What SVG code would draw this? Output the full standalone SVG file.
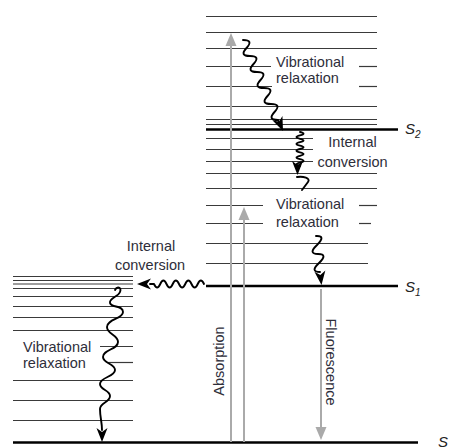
<svg xmlns="http://www.w3.org/2000/svg" xmlns:xlink="http://www.w3.org/1999/xlink" width="451" height="448" viewBox="0 0 451 448">
<style>
.lv{stroke:#3a3a3a;stroke-width:1.2;fill:none}
.th{stroke:#000;stroke-width:2.6;fill:none}
.gr{stroke:#aaa;stroke-width:2;fill:none}
.wv{stroke:#000;stroke-width:1.9;fill:none;stroke-linejoin:round;stroke-linecap:round}
.t{font-family:"Liberation Sans",Arial,sans-serif;font-size:14.5px;fill:#2e2e3a}
.s{font-family:"Liberation Sans",Arial,sans-serif;font-style:italic;font-size:15px;fill:#222}
.sub{font-size:10px}
</style>
<defs>
<path id="ah" d="M0,0 L-5.5,-14 L0,-10 L5.5,-14 Z" fill="#000"/>
<path id="ahg" d="M0,0 L-5.5,-13 L5.5,-13 Z" fill="#aaa"/>
</defs>
<rect width="451" height="448" fill="#fff"/>

<g id="S2-manifold">
<line class="lv" x1="206" y1="16.5" x2="377" y2="16.5"/>
<line class="lv" x1="206" y1="32.5" x2="377" y2="32.5"/>
<line class="lv" x1="206" y1="48.5" x2="377" y2="48.5"/>
<line class="lv" x1="206" y1="66.5" x2="271" y2="66.5"/>
<line class="lv" x1="359" y1="66.5" x2="377" y2="66.5"/>
<line class="lv" x1="206" y1="86.5" x2="272" y2="86.5"/>
<line class="lv" x1="359" y1="86.5" x2="377" y2="86.5"/>
<line class="lv" x1="206" y1="106.5" x2="377" y2="106.5"/>
<line class="lv" x1="206" y1="119.5" x2="377" y2="119.5"/>
<line class="lv" x1="206" y1="124.5" x2="377" y2="124.5"/>
<line class="th" x1="206" y1="129.5" x2="398" y2="129.5"/>
<line class="lv" x1="206" y1="138.5" x2="313" y2="138.5"/>
<line class="lv" x1="206" y1="149.5" x2="313" y2="149.5"/>
<line class="lv" x1="206" y1="161.5" x2="313" y2="161.5"/>
<line class="lv" x1="206" y1="173.5" x2="377" y2="173.5"/>
<line class="lv" x1="206" y1="188.5" x2="377" y2="188.5"/>
<line class="lv" x1="206" y1="205.5" x2="263" y2="205.5"/>
<line class="lv" x1="359" y1="205.5" x2="377" y2="205.5"/>
<line class="lv" x1="206" y1="223.5" x2="263" y2="223.5"/>
<line class="lv" x1="359" y1="223.5" x2="371" y2="223.5"/>
<line class="lv" x1="206" y1="243.5" x2="368" y2="243.5"/>
<line class="lv" x1="206" y1="263.5" x2="368" y2="263.5"/>
<text class="s" x="405" y="134">S<tspan class="sub" dy="4">2</tspan></text>
</g>

<g id="S1">
<line class="th" x1="206" y1="286" x2="398" y2="286"/>
<text class="s" x="405" y="292">S<tspan class="sub" dy="4">1</tspan></text>
</g>

<g id="S1-manifold-left">
<line class="lv" x1="13" y1="276.5" x2="133" y2="276.5"/>
<line class="lv" x1="13" y1="280.5" x2="133" y2="280.5"/>
<line class="lv" x1="13" y1="284" x2="133" y2="284"/>
<line class="lv" x1="13" y1="288.5" x2="133" y2="288.5"/>
<line class="lv" x1="13" y1="296.5" x2="133" y2="296.5"/>
<line class="lv" x1="13" y1="306.5" x2="133" y2="306.5"/>
<line class="lv" x1="13" y1="317.5" x2="133" y2="317.5"/>
<line class="lv" x1="13" y1="330.5" x2="133" y2="330.5"/>
<line class="lv" x1="100" y1="346.5" x2="133" y2="346.5"/>
<line class="lv" x1="107" y1="362.5" x2="133" y2="362.5"/>
<line class="lv" x1="13" y1="380.5" x2="133" y2="380.5"/>
<line class="lv" x1="13" y1="400.5" x2="133" y2="400.5"/>
<line class="lv" x1="13" y1="420.5" x2="133" y2="420.5"/>
</g>

<g id="S0">
<line class="th" x1="13" y1="442.5" x2="418" y2="442.5"/>
<text class="s" x="438" y="447">S</text>
</g>

<g id="labels">
<text class="t" x="276" y="67">Vibrational</text>
<text class="t" x="276" y="83">relaxation</text>
<text class="t" x="352.5" y="147" text-anchor="middle">Internal</text>
<text class="t" x="352.5" y="167" text-anchor="middle">conversion</text>
<text class="t" x="276" y="209">Vibrational</text>
<text class="t" x="276" y="227">relaxation</text>
<text class="t" x="151" y="251" text-anchor="middle">Internal</text>
<text class="t" x="150" y="270" text-anchor="middle">conversion</text>
<text class="t" x="23" y="352">Vibrational</text>
<text class="t" x="23" y="368">relaxation</text>
<text class="t" x="0" y="0" text-anchor="middle" transform="translate(224,361) rotate(-90)">Absorption</text>
<text class="t" x="0" y="0" text-anchor="middle" transform="translate(326,362) rotate(90)">Fluorescence</text>
</g>

<g id="connectors">
<line class="gr" x1="231" y1="442" x2="231" y2="44"/>
<use xlink:href="#ahg" href="#ahg" transform="translate(231,33) rotate(180)"/>
<line class="gr" x1="244" y1="442" x2="244" y2="218"/>
<use xlink:href="#ahg" href="#ahg" transform="translate(244,207) rotate(180)"/>
<line class="gr" x1="321" y1="289" x2="321" y2="429"/>
<use xlink:href="#ahg" href="#ahg" transform="translate(321,440)"/>

<path class="wv" d="M243,40 Q253.9,40 246.5,48 Q239.1,56 250,56 Q260.9,56 253.5,64 Q246.1,72 257,72 Q267.9,72 260.5,80 Q253.1,88 264,88 Q274.9,88 267.5,96 Q260.1,104 271,104 Q281.9,104 274.5,112 Q267.1,120 278,120 L279,122"/>
<use xlink:href="#ah" href="#ah" transform="translate(283,131) rotate(-23.6)"/>

<path class="wv" d="M300,132 q7,1.7 0,3.4 q-7,1.7 0,3.4 q7,1.7 0,3.4 q-7,1.7 0,3.4 q7,1.7 0,3.4 q-7,1.7 0,3.4 q7,1.7 0,3.4 q-7,1.7 0,3.4 q7,1.7 0,3.4 q-7,1.7 0,3.4 L298,166"/>
<use xlink:href="#ah" href="#ah" transform="translate(297.5,175)"/>
<path class="wv" d="M297,177 C303,176 311,178 308,182 L302,190"/>

<path class="wv" d="M316,236 Q326.4,235.5 317,245 Q307.6,254 318,254 Q328.4,254 319,263 Q309.6,272 320,272"/>
<use xlink:href="#ah" href="#ah" transform="translate(321.5,285) rotate(-6.6)"/>

<path class="wv" d="M204,284 q-3.125,-7 -6.25,0 q-3.125,7 -6.25,0 q-3.125,-7 -6.25,0 q-3.125,7 -6.25,0 q-3.125,-7 -6.25,0 q-3.125,7 -6.25,0 q-3.125,-7 -6.25,0 q-3.125,7 -6.25,0 L150,284"/>
<use xlink:href="#ah" href="#ah" transform="translate(137,284) rotate(90)"/>

<path class="wv" d="M115,290 C117,286 122,287 120,292 C118,297 109,298 110,303 C111,308 123,305 123,312 C123,319 107,319 107,327 C107,334.5 118,334.5 118,342 C118,349.5 103,349.5 103,357 C103,363.5 115,363.5 115,370 C115,377 100,377 100,384 C100,390 110,390 110,396 C110,402.5 100,402.5 100,409 C100,417 102,422 102,430"/>
<use xlink:href="#ah" href="#ah" transform="translate(102,442)"/>
</g>
</svg>
